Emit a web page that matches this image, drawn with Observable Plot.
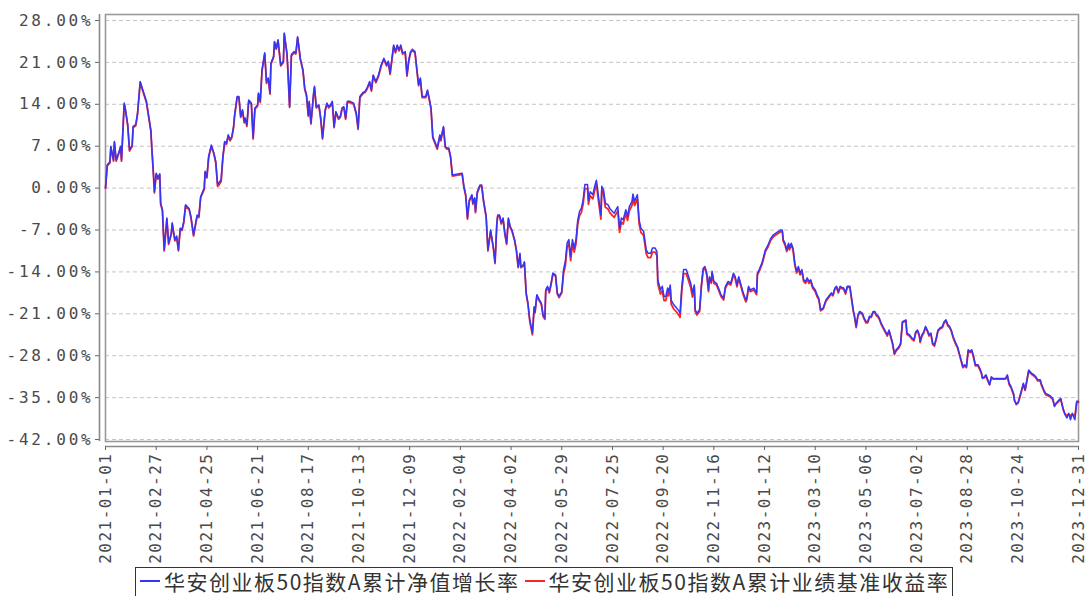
<!DOCTYPE html>
<html>
<head>
<meta charset="utf-8">
<script src="https://cdn.jsdelivr.net/npm/d3@7"></script>
<script src="https://cdn.jsdelivr.net/npm/@observablehq/plot@0.6"></script>
<style>
  html, body { margin: 0; padding: 0; background: #fff; }
  #chart svg { display: block; }
  #chart svg g[aria-label="y-axis tick label"] text { letter-spacing: 2.8px; }
  #chart svg g[aria-label="x-axis tick label"] text { letter-spacing: 1.5px; }
  .legend {
    position: absolute; left: 135px; top: 567px;
    border: 1px solid #333; background: #fff;
    display: flex; align-items: center;
    padding: 1px 3px 8px 4px;
    font-family: "Noto Sans CJK SC", sans-serif; font-size: 21px; line-height: 24px; color: #333;
    white-space: nowrap;
  }
  .legend .item { display: inline-flex; align-items: center; }
  .legend .item + .item { margin-left: 5px; }
  .legend .label { letter-spacing: 1.5px; }
  .legend .swatch { display: inline-block; width: 20px; height: 2px; margin-right: 4px; }
</style>
</head>
<body>
<div id="chart"></div>
<div class="legend" id="legend"></div>
<script>
const startDate = "2021-01-01";
const endDate = "2023-12-31";
const seriesNames = ["华安创业板50指数A累计净值增长率", "华安创业板50指数A累计业绩基准收益率"];
const seriesColors = ["#3535f5", "#f52828"];
const yTickValues = [28, 21, 14, 7, 0, -7, -14, -21, -28, -35, -42];
const xTickLabels = ["2021-01-01","2021-02-27","2021-04-25","2021-06-21","2021-08-17","2021-10-13","2021-12-09",
  "2022-02-04","2022-04-02","2022-05-29","2022-07-25","2022-09-20","2022-11-16","2023-01-12","2023-03-10",
  "2023-05-06","2023-07-02","2023-08-28","2023-10-24","2023-12-31"];

// days since 2021-01-01
const dayOffsets = [0,2,5,6,9,10,12,15,17,18,21,22,25,27,30,31,34,36,39,42,46,51,52,54,55,57,59,61,62,64,66,69,71,74,75,78,80,82,84,86,88,90,94,96,99,103,105,107,111,112,114,116,119,122,124,126,127,130,132,134,136,138,140,142,144,145,148,150,152,154,156,157,159,161,164,166,168,171,172,174,176,179,181,183,185,186,189,190,192,194,197,200,201,204,205,207,209,212,214,216,218,219,222,224,226,228,229,231,234,235,237,240,242,244,247,249,251,253,255,257,259,262,264,266,268,270,272,275,279,282,284,286,289,292,294,297,299,301,304,307,310,313,316,318,320,324,326,328,330,332,334,337,339,341,343,345,348,350,352,354,356,360,362,364,366,368,371,373,376,377,380,382,384,386,388,390,401,403,405,407,409,412,413,415,416,418,421,423,425,428,430,433,436,438,440,441,443,445,447,449,451,453,455,457,460,462,464,466,467,470,471,473,475,477,480,482,483,485,488,490,492,494,495,497,499,501,503,506,508,510,513,515,517,519,521,523,525,527,529,531,533,535,537,539,542,543,545,548,550,552,554,557,558,560,562,565,567,570,572,574,576,578,580,582,585,587,589,592,593,595,598,600,602,605,608,610,613,615,618,620,621,624,626,628,630,632,633,635,636,639,642,645,646,648,650,653,655,658,660,662,663,665,668,670,672,674,676,678,679,681,682,684,687,690,692,695,697,700,703,706,708,710,712,714,717,720,721,723,725,729,732,733,735,738,739,742,745,748,751,755,759,761,762,764,766,768,769,771,773,775,777,779,781,783,785,787,789,791,793,795,798,800,802,804,807,810,813,816,818,820,822,824,826,828,830,832,834,837,838,841,842,844,846,848,851,853,855,857,859,861,863,865,867,868,870,872,875,879,881,883,885,887,889,892,894,896,900,901,904,907,909,911,913,915,916,918,920,922,924,926,928,930,932,934,936,938,941,943,945,947,949,951,953,956,958,960,962,964,966,968,970,972,974,976,978,981,983,985,986,988,990,992,994,996,998,1012,1014,1016,1018,1021,1022,1024,1026,1028,1030,1032,1034,1036,1038,1041,1044,1046,1048,1051,1052,1055,1057,1060,1063,1065,1067,1069,1072,1074,1076,1077,1079,1081,1083,1085,1087,1089,1090,1092,1094];

// 华安创业板50指数A累计净值增长率 (%)
const fundGrowth = [0,3.9,4.4,7.0,4.7,7.8,4.7,6.0,7.0,4.7,14.2,13.6,10.6,6.4,7.2,10.3,10.6,12.5,17.8,16.4,14.5,9.7,7.0,2.2,-0.6,2.5,1.7,2.4,-2.5,-3.6,-10.3,-5.0,-9.2,-7.5,-5.8,-8.6,-8.0,-10.3,-6.7,-6.9,-5.6,-2.8,-3.4,-4.7,-7.8,-4.5,-4.7,-1.4,0,2.8,1.9,5.3,7.2,5.8,4.4,0.6,0.8,1.4,5.3,7.8,7.5,8.9,8.1,8.6,10.3,12.0,15.3,15.3,12.0,13.1,11.1,11.7,10.6,14.7,14.2,8.4,13.4,13.9,15.9,14.5,19.8,22.6,17.8,18.4,15.9,20.9,22.0,24.5,23.4,24.8,20.6,21.2,25.9,22.6,20.0,13.6,22.3,22.8,22.6,25.3,23.0,21.7,19.8,16.7,15.6,12.2,14.5,10.9,15.9,17.0,13.6,13.9,11.7,8.4,13.1,14.2,13.6,13.9,14.5,10.3,12.8,11.7,12.0,13.4,13.6,11.7,14.5,14.5,14.2,12.5,10.0,15.3,15.9,16.2,16.7,17.8,16.4,18.9,17.8,18.9,20.6,21.7,20.6,21.2,19.2,23.9,22.8,23.9,23.1,23.9,22.6,22.8,18.9,21.4,22.8,23.2,22.8,20.0,17.3,18.4,15.3,15.3,16.4,15.0,13.4,8.6,7.5,6.7,8.9,8.1,10.3,7.0,6.7,6.7,5.3,2.2,2.5,0.3,-1.1,-5.0,-2.0,-1.1,-2.5,-1.6,-3.9,-0.6,0.5,0.5,-2.0,-4.7,-10.3,-7.0,-9.8,-12.4,-5.8,-4.5,-4.5,-5.8,-5.0,-7.5,-9.2,-5.0,-6.4,-7.0,-8.6,-10.3,-13.1,-10.9,-13.1,-12.8,-12.3,-17.5,-19.2,-22.0,-24.2,-19.8,-20.6,-17.8,-18.7,-19.2,-21.2,-21.7,-17.0,-16.4,-17.3,-15.9,-14.2,-14.5,-17.5,-18.1,-17.3,-13.6,-12.3,-9.2,-8.6,-11.4,-8.6,-10.0,-8.6,-5.3,-3.9,-3.4,-2.0,0.6,0.6,-2.0,-0.6,-1.1,0.3,1.3,-1.1,-4.5,0.3,-0.3,-2.5,-2.8,-3.4,-3.9,-4.2,-3.6,-3.1,-6.7,-5.0,-5.3,-3.6,-4.7,-3.1,-2.2,-1.0,-2.2,-1.1,-5.3,-6.7,-7.2,-10.3,-10.9,-10.9,-10.0,-10.0,-10.6,-15.3,-17.0,-16.4,-18.1,-18.1,-16.7,-17.3,-16.2,-18.7,-19.5,-20.0,-20.6,-20.9,-16.4,-13.6,-13.6,-14.5,-15.9,-17.5,-16.2,-20.3,-20.9,-20.3,-16.2,-13.4,-13.1,-14.2,-17.0,-14.8,-15.6,-13.9,-15.6,-15.9,-17.0,-17.8,-18.4,-16.4,-15.6,-15.9,-14.2,-14.8,-16.2,-14.8,-15.9,-17.5,-18.7,-18.4,-16.4,-17.0,-16.7,-17.5,-14.2,-13.6,-12.5,-12.0,-10.3,-9.5,-8.4,-7.8,-7.4,-7.0,-7.0,-8.6,-9.2,-10.3,-9.2,-10.0,-9.2,-10.0,-12.5,-13.9,-13.1,-14.2,-13.6,-15.3,-15.6,-15.0,-15.6,-15.3,-16.4,-17.0,-17.8,-18.4,-20.3,-20.0,-18.7,-18.1,-17.5,-17.8,-16.7,-16.4,-17.3,-16.4,-16.6,-16.7,-17.5,-16.4,-16.4,-17.5,-20.6,-21.2,-23.1,-21.2,-20.6,-20.9,-21.7,-22.3,-22.3,-21.4,-21.4,-20.6,-20.6,-21.2,-21.2,-21.7,-22.5,-23.4,-24.5,-23.7,-24.8,-25.9,-27.6,-27.0,-26.5,-25.9,-22.3,-22.0,-24.2,-24.5,-25.1,-25.3,-24.0,-23.7,-24.5,-25.6,-24.5,-24.0,-23.1,-23.7,-24.5,-24.2,-25.9,-26.2,-25.1,-23.7,-23.4,-23.1,-22.3,-22.0,-22.8,-23.1,-23.7,-24.8,-25.9,-26.5,-27.6,-28.7,-29.8,-29.5,-29.8,-27.0,-27.3,-27.0,-28.1,-29.5,-29.5,-30.1,-30.9,-31.8,-31.5,-31.2,-32.0,-32.9,-31.5,-31.8,-31.8,-31.2,-32.6,-33.1,-34.3,-35.4,-36.2,-35.9,-34.8,-33.7,-32.6,-33.7,-32.0,-30.4,-30.9,-31.2,-31.5,-32.0,-32.0,-32.6,-33.7,-34.3,-34.5,-34.8,-35.1,-36.5,-35.9,-35.4,-35.1,-36.5,-37.0,-37.9,-38.4,-37.6,-38.7,-37.6,-38.4,-38.7,-35.6,-35.6];

// 华安创业板50指数A累计业绩基准收益率 (%)
const benchmarkGrowth = [0,3.7,4.2,6.8,4.5,7.6,4.5,5.8,6.8,4.5,14.0,13.4,10.4,6.2,7.0,10.1,10.4,12.3,17.6,16.2,14.3,9.5,6.8,2.0,-0.8,2.3,1.5,2.2,-2.7,-3.8,-10.5,-5.2,-9.4,-7.7,-6.0,-8.8,-8.2,-10.5,-6.9,-7.1,-5.8,-3.0,-3.6,-4.9,-8.0,-4.7,-4.9,-1.6,-0.2,2.6,1.7,5.1,7.0,5.6,4.2,0.3,0.4,1.1,5.1,7.6,7.3,8.7,7.9,8.4,10.1,11.8,15.1,15.1,11.8,12.9,10.9,11.5,10.3,14.5,14.0,8.2,13.2,13.7,15.7,14.3,19.6,22.4,17.5,18.2,15.7,20.7,21.8,24.3,23.2,24.6,20.4,21.0,25.7,22.4,19.8,13.5,22.1,22.6,22.4,25.1,22.8,21.5,19.6,16.5,15.4,12.0,14.3,10.7,15.7,16.8,13.4,13.7,11.5,8.2,12.9,14.0,13.4,13.7,14.3,10.1,12.6,11.5,11.8,13.2,13.4,11.5,14.3,14.3,14.0,12.3,9.8,15.1,15.7,16.0,16.5,17.6,16.2,18.7,17.6,18.7,20.4,21.5,20.4,21.0,19.0,23.7,22.6,23.7,22.9,23.7,22.4,22.6,18.7,21.2,22.6,23.0,22.6,19.8,17.1,18.2,15.1,15.1,16.2,14.8,13.2,8.4,7.3,6.5,8.7,7.9,10.1,6.8,6.5,6.5,5.1,2.0,2.3,0.1,-1.3,-5.2,-2.2,-1.3,-2.7,-1.8,-4.1,-0.8,0.3,0.3,-2.2,-4.9,-10.5,-7.2,-10.0,-12.6,-6.0,-4.7,-4.7,-6.0,-5.2,-7.7,-9.4,-5.2,-6.6,-7.2,-8.8,-10.5,-13.3,-11.1,-13.3,-13.0,-12.5,-17.7,-19.4,-22.2,-24.5,-20.0,-20.8,-18.0,-18.9,-19.4,-21.4,-21.9,-17.2,-16.6,-17.5,-16.1,-14.4,-14.7,-17.7,-18.3,-17.5,-14.3,-13.0,-9.9,-9.3,-12.1,-9.3,-10.7,-9.3,-6.0,-4.6,-4.1,-2.7,-0.1,-0.1,-2.7,-1.3,-1.8,-0.4,0.6,-1.8,-5.2,-0.4,-1.0,-3.2,-3.5,-4.1,-4.6,-4.9,-4.3,-3.8,-7.4,-5.7,-6.0,-4.3,-5.4,-3.8,-2.9,-1.7,-2.9,-1.8,-6.0,-7.4,-7.9,-11.0,-11.6,-11.6,-10.7,-10.7,-11.3,-16.0,-17.7,-17.1,-18.8,-18.8,-17.4,-18.0,-16.9,-19.4,-20.2,-20.7,-21.3,-21.6,-17.1,-14.3,-14.3,-15.2,-16.6,-18.2,-16.5,-20.6,-21.2,-20.6,-16.5,-13.7,-13.4,-14.5,-17.3,-15.1,-15.9,-14.2,-15.9,-16.2,-17.3,-18.1,-18.7,-16.7,-15.9,-16.2,-14.5,-15.1,-16.5,-15.1,-16.2,-17.8,-19.0,-18.7,-16.7,-17.3,-17.0,-17.8,-14.5,-13.9,-12.8,-12.3,-10.6,-9.8,-8.7,-8.1,-7.7,-7.3,-7.3,-8.9,-9.5,-10.6,-9.5,-10.3,-9.5,-10.3,-12.8,-14.2,-13.4,-14.5,-13.9,-15.6,-15.9,-15.3,-15.9,-15.6,-16.7,-17.3,-18.1,-18.6,-20.5,-20.2,-18.9,-18.3,-17.7,-18.0,-16.9,-16.6,-17.5,-16.6,-16.8,-16.9,-17.7,-16.6,-16.6,-17.7,-20.8,-21.4,-23.3,-21.4,-20.8,-21.1,-21.9,-22.5,-22.5,-21.6,-21.6,-20.8,-20.8,-21.4,-21.4,-21.9,-22.7,-23.6,-24.7,-23.9,-25.0,-26.1,-27.8,-27.2,-26.7,-26.1,-22.5,-22.2,-24.4,-24.7,-25.3,-25.5,-24.2,-23.9,-24.7,-25.8,-24.7,-24.2,-23.3,-23.9,-24.7,-24.4,-26.1,-26.4,-25.3,-23.9,-23.6,-23.3,-22.5,-22.2,-23.0,-23.3,-23.9,-25.0,-26.1,-26.7,-27.8,-28.9,-30.0,-29.7,-30.0,-27.2,-27.5,-27.2,-28.3,-29.7,-29.7,-30.3,-31.1,-31.7,-31.7,-31.4,-32.2,-32.8,-31.7,-31.9,-31.9,-31.4,-32.8,-33.3,-34.5,-35.5,-36.0,-35.9,-35.0,-33.9,-32.8,-33.8,-32.2,-30.6,-31.1,-31.4,-31.7,-32.2,-32.2,-32.8,-33.9,-34.5,-34.7,-35.0,-35.3,-36.3,-36.0,-35.6,-35.3,-36.4,-37.1,-37.8,-37.9,-37.8,-38.0,-37.8,-37.9,-38.0,-35.8,-35.8];

const DAY = 864e5;
const t0 = Date.parse(startDate + "T00:00:00Z");
const rows = dayOffsets.map((d, i) => ({
  date: new Date(t0 + d * DAY),
  fund: fundGrowth[i],
  bench: benchmarkGrowth[i]
}));
const xStart = new Date(startDate + "T00:00:00Z");
const xEnd = new Date(endDate + "T00:00:00Z");
const xTicks = xTickLabels.map(s => new Date(s + "T00:00:00Z"));
const yMin = -42.33, yMax = 29.0;

const chart = Plot.plot({
  width: 1089,
  height: 578,
  marginLeft: 105,
  marginRight: 11,
  marginTop: 14,
  marginBottom: 137,
  style: { fontFamily: "'DejaVu Sans Mono', monospace", fontSize: "16px", color: "#4a4a4a", background: "#fff" },
  x: { type: "utc", domain: [xStart, xEnd], label: null },
  y: { domain: [yMin, yMax], label: null },
  marks: [
    Plot.gridY(yTickValues, { stroke: "#c4c4c4", strokeOpacity: 1, strokeDasharray: "4,3", strokeWidth: 1 }),
    Plot.frame({ stroke: "#9a9a9a", strokeWidth: 1.6 }),
    Plot.ruleX([xStart], { dx: -6, stroke: "#8a8a8a", strokeWidth: 1.6 }),
    Plot.ruleY([yMin], { dy: 5, stroke: "#8a8a8a", strokeWidth: 1.6 }),
    Plot.lineY(rows, { x: "date", y: "bench", stroke: seriesColors[1], strokeWidth: 1.8 }),
    Plot.lineY(rows, { x: "date", y: "fund", stroke: seriesColors[0], strokeWidth: 1.5 }),
    Plot.axisY({
      ticks: yTickValues, tickFormat: d => d.toFixed(2) + "%", tickSize: 4, tickPadding: 2,
      dx: -6, label: null, fontSize: 16, stroke: "#666", ariaLabel: "y-axis"
    }),
    Plot.axisX({
      ticks: xTicks, tickFormat: d3.utcFormat("%Y-%m-%d"), tickRotate: -90, tickSize: 4, tickPadding: 2,
      dy: 5, label: null, fontSize: 16, stroke: "#666", ariaLabel: "x-axis"
    })
  ]
});
document.getElementById("chart").appendChild(chart);

const legend = document.getElementById("legend");
seriesNames.forEach((name, i) => {
  const item = document.createElement("span");
  item.className = "item";
  const sw = document.createElement("span");
  sw.className = "swatch";
  sw.style.background = seriesColors[i];
  item.appendChild(sw);
  const label = document.createElement("span");
  label.className = "label";
  label.textContent = name;
  item.appendChild(label);
  legend.appendChild(item);
});
</script>
</body>
</html>
